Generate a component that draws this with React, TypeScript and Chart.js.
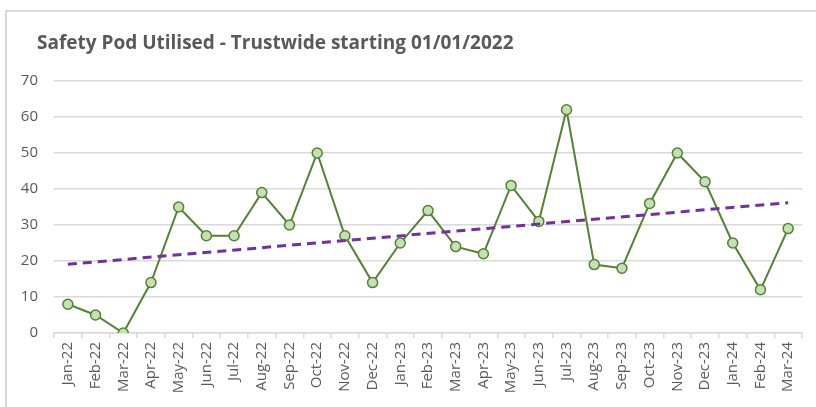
import React, { useEffect, useRef } from "react";
import { Chart, registerables } from "chart.js";

Chart.register(...registerables);

const TITLE = "Safety Pod Utilised - Trustwide starting 01/01/2022";

const MONTHS: string[] = [
  "Jan-22", "Feb-22", "Mar-22", "Apr-22", "May-22", "Jun-22", "Jul-22", "Aug-22", "Sep-22",
  "Oct-22", "Nov-22", "Dec-22", "Jan-23", "Feb-23", "Mar-23", "Apr-23", "May-23", "Jun-23",
  "Jul-23", "Aug-23", "Sep-23", "Oct-23", "Nov-23", "Dec-23", "Jan-24", "Feb-24", "Mar-24",
];

const PODS_USED: number[] = [
  8, 5, 0, 14, 35, 27, 27, 39, 30, 50, 27, 14, 25, 34, 24, 22, 41, 31, 62, 19, 18, 36, 50, 42, 25, 12, 29,
];

// Linear trendline end values
const TREND_START = 19.1;
const TREND_END = 36.2;

const Y_TICKS = { min: 0, max: 70, step: 10 };

const titlePlugin = {
  id: "leftTitle",
  afterDraw(chart: any) {
    const ctx = chart.ctx;
    ctx.save();
    ctx.font = "bold 19px 'Open Sans'";
    ctx.fillStyle = "#595959";
    ctx.textBaseline = "alphabetic";
    ctx.textAlign = "left";
    ctx.fillText(TITLE, 37, 49);
    ctx.restore();
  },
};

export default function App() {
  const ref = useRef<HTMLCanvasElement | null>(null);

  useEffect(() => {
    if (!ref.current) return;
    const last = MONTHS.length - 1;
    const trend = MONTHS.map((_, i) => (i === 0 ? TREND_START : i === last ? TREND_END : null));
    const chart = new Chart(ref.current, {
      type: "line",
      data: {
        labels: MONTHS,
        datasets: [
          {
            label: "Trend",
            data: trend,
            borderColor: "#7030A0",
            borderWidth: 3,
            borderDash: [9, 6],
            pointRadius: 0,
            spanGaps: true,
            fill: false,
          },
          {
            label: "Safety Pod Utilised",
            data: PODS_USED,
            borderColor: "#548235",
            borderWidth: 2,
            pointRadius: 5,
            pointBorderWidth: 1.5,
            pointBackgroundColor: "#C5E0B4",
            pointBorderColor: "#548235",
            tension: 0,
            fill: false,
          },
        ],
      },
      options: {
        responsive: false,
        animation: false,
        layout: { padding: { left: 0, right: 14, top: 81, bottom: 0 } },
        plugins: {
          legend: { display: false },
          title: { display: false },
          tooltip: { enabled: false },
        },
        scales: {
          x: {
            offset: true,
            afterFit(scale: any) {
              scale.height = 74;
            },
            grid: {
              offset: true,
              drawOnChartArea: false,
              drawTicks: true,
              tickLength: 5,
              color: "#d9d9d9",
              lineWidth: 1.5,
            },
            border: { color: "#d9d9d9", width: 1.5 },
            ticks: {
              minRotation: 90,
              maxRotation: 90,
              autoSkip: false,
              padding: 4,
              color: "#595959",
              font: { family: "'Open Sans'", size: 15 },
            },
          },
          y: {
            min: Y_TICKS.min,
            max: Y_TICKS.max,
            afterFit(scale: any) {
              scale.width = 54;
            },
            grid: {
              drawTicks: false,
              color: "#d9d9d9",
              lineWidth: 1.5,
            },
            border: { display: false },
            ticks: {
              stepSize: Y_TICKS.step,
              padding: 16,
              color: "#595959",
              font: { family: "'Open Sans'", size: 15 },
            },
          },
        },
      },
      plugins: [titlePlugin],
    });
    return () => chart.destroy();
  }, []);

  return (
    <div
      style={{
        position: "fixed",
        left: 0,
        top: 0,
        width: 816,
        height: 407,
        background: "#ffffff",
        overflow: "hidden",
      }}
    >
      <div
        style={{
          position: "absolute",
          left: 5,
          top: 10,
          width: 840,
          height: 440,
          border: "2px solid #d9d9d9",
        }}
      />
      <canvas
        ref={ref}
        width={816}
        height={407}
        style={{ position: "absolute", left: 0, top: 0, width: 816, height: 407 }}
      />
    </div>
  );
}
